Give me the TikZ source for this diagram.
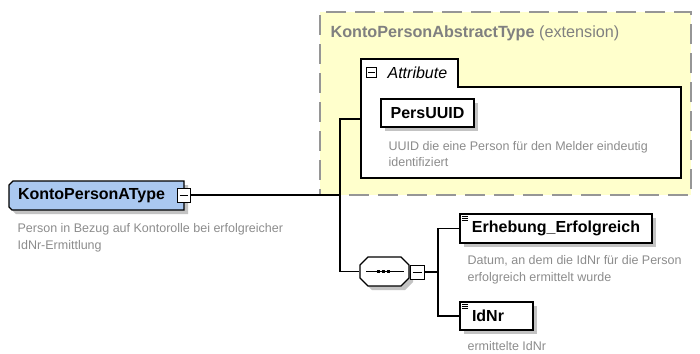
\documentclass[tikz,border=0pt]{standalone}
\usepackage{fontspec}
\setmainfont{Liberation Sans}
\usetikzlibrary{shadows,calc}
\definecolor{typeblue}{RGB}{170,200,240}
\definecolor{extyellow}{RGB}{255,255,204}
\definecolor{dashgray}{RGB}{150,150,150}
\definecolor{titlegray}{RGB}{128,128,128}
\definecolor{descgray}{RGB}{140,140,140}
\definecolor{shadowgray}{RGB}{195,195,195}
\begin{document}
\begin{tikzpicture}[x=1bp,y=-1bp,line width=1.2bp,
  nm/.style={font=\fontsize{16bp}{19bp}\bfseries\selectfont},
  hshadow/.style={drop shadow={shadow xshift=4bp,shadow yshift=-4bp,fill=shadowgray,opacity=1}},
  elem/.style={draw,fill=white,hshadow,nm,inner sep=0pt,minimum height=28bp},
  desc/.style={font=\fontsize{12.5bp}{16.5bp}\selectfont,text=descgray,anchor=north west,inner sep=0pt,align=left},
  minusbox/.style={draw,fill=white,inner sep=0pt,minimum width=13bp,minimum height=14bp,line width=1bp},
  conn/.style={line width=1.3bp},
  icon/.style={line width=0.8bp}
]
\useasboundingbox (0,0) rectangle (700,353);

% extension box
\node (ext) [draw=dashgray,fill=extyellow,dash pattern=on 20bp off 9bp,line width=1.2bp,
  minimum width=371bp,minimum height=183bp,inner sep=0pt] at (505.5,103.5) {};
\node (exttitle) [anchor=base west,inner sep=0pt,text=titlegray,
  font=\fontsize{16.2bp}{19bp}\selectfont] at (330,37) {\textbf{KontoPersonAbstractType} (extension)};

% attribute group
\draw[fill=white,line width=1.2bp] (361,178) -- (361,59) -- (458,59) -- (458,87) -- (681,87) -- (681,178) -- cycle;
\coordinate (attrin) at (361,119);
\node (attrmin) [draw,fill=white,minimum size=10bp,inner sep=0pt,line width=0.9bp] at (371.5,72.5) {};
\draw[line width=0.9bp] ($(attrmin.west)+(2,0)$) -- ($(attrmin.east)+(-2,0)$);
\node (attrlbl) [anchor=base west,inner sep=0pt,font=\fontsize{16bp}{19bp}\itshape\selectfont] at (387,78.5) {Attribute};

\node (pers) [elem,minimum width=93bp] at (427.5,113) {PersUUID};
\node (persdesc) [desc] at (388,140.4) {UUID die eine Person für den Melder eindeutig\\identifiziert};

% main type
\fill[shadowgray,shift={(4,4)}] (9,185) -- (13,181) -- (184,181) -- (184,210) -- (12,210) -- (9,207) -- cycle;
\filldraw[fill=typeblue] (9,185) -- (13,181) -- (184,181) -- (184,210) -- (12,210) -- (9,207) -- cycle;
\node (kpat) [nm,minimum width=175bp,minimum height=29bp,inner sep=0pt] at (96.5,195.5) {KontoPersonAType\hspace*{10bp}};
\node (kmin) [minusbox] at (183.5,195) {};
\draw[line width=1bp] ($(kmin.west)+(3,0)$) -- ($(kmin.east)+(-3,0)$);
\node (kdesc) [desc] at (17,223.3) {Person in Bezug auf Kontorolle bei erfolgreicher\\IdNr-Ermittlung};

% connectors to extension
\coordinate (j1) at (340,195);
\draw[conn] (kmin.east) -- (j1);
\draw[conn] (j1) |- (attrin);

% sequence
\fill[shadowgray,shift={(4,4)}] (360,265) -- (368,257) -- (401,257) -- (409,265) -- (409,278) -- (401,286) -- (368,286) -- (360,278) -- cycle;
\filldraw[fill=white] (360,265) -- (368,257) -- (401,257) -- (409,265) -- (409,278) -- (401,286) -- (368,286) -- (360,278) -- cycle;
\node (seq) [minimum width=49bp,minimum height=29bp,inner sep=0pt] at (384.5,271.5) {};
\draw[line width=1bp] ($(seq.west)+(7,0)$) -- ($(seq.east)+(-6,0)$);
\foreach \dx in {-6,-1,4}
  \fill ($(seq.center)+(\dx,0)+(-1.75,-1.75)$) rectangle +(3.5,3.5);
\node (smin) [minusbox,minimum width=14bp] at (417,272) {};
\draw[line width=1bp] ($(smin.west)+(3,0)$) -- ($(smin.east)+(-3,0)$);
\draw[conn] (j1) |- (seq.west);

\coordinate (j2) at (438,272);
\draw[conn] (smin.east) -- (j2);

% elements
\node (erh) [elem,minimum width=192bp,minimum height=29bp] at (556,228.5) {Erhebung\_Erfolgreich};
\node (idnr) [elem,minimum width=73bp] at (496.5,316) {IdNr\hspace*{17bp}};
\foreach \n in {erh,idnr}
  \foreach \dy in {3,5,7}
    \draw[icon] ($(\n.north west)+(2.5,\dy)$) -- +(6,0);
\draw[conn] (j2) |- (erh.west);
\draw[conn] (j2) |- (idnr.west);

\node (erhdesc) [desc] at (467,255.3) {Datum, an dem die IdNr für die Person\\erfolgreich ermittelt wurde};
\node (idnrdesc) [desc] at (467,340.5) {ermittelte IdNr};
\end{tikzpicture}
\end{document}
